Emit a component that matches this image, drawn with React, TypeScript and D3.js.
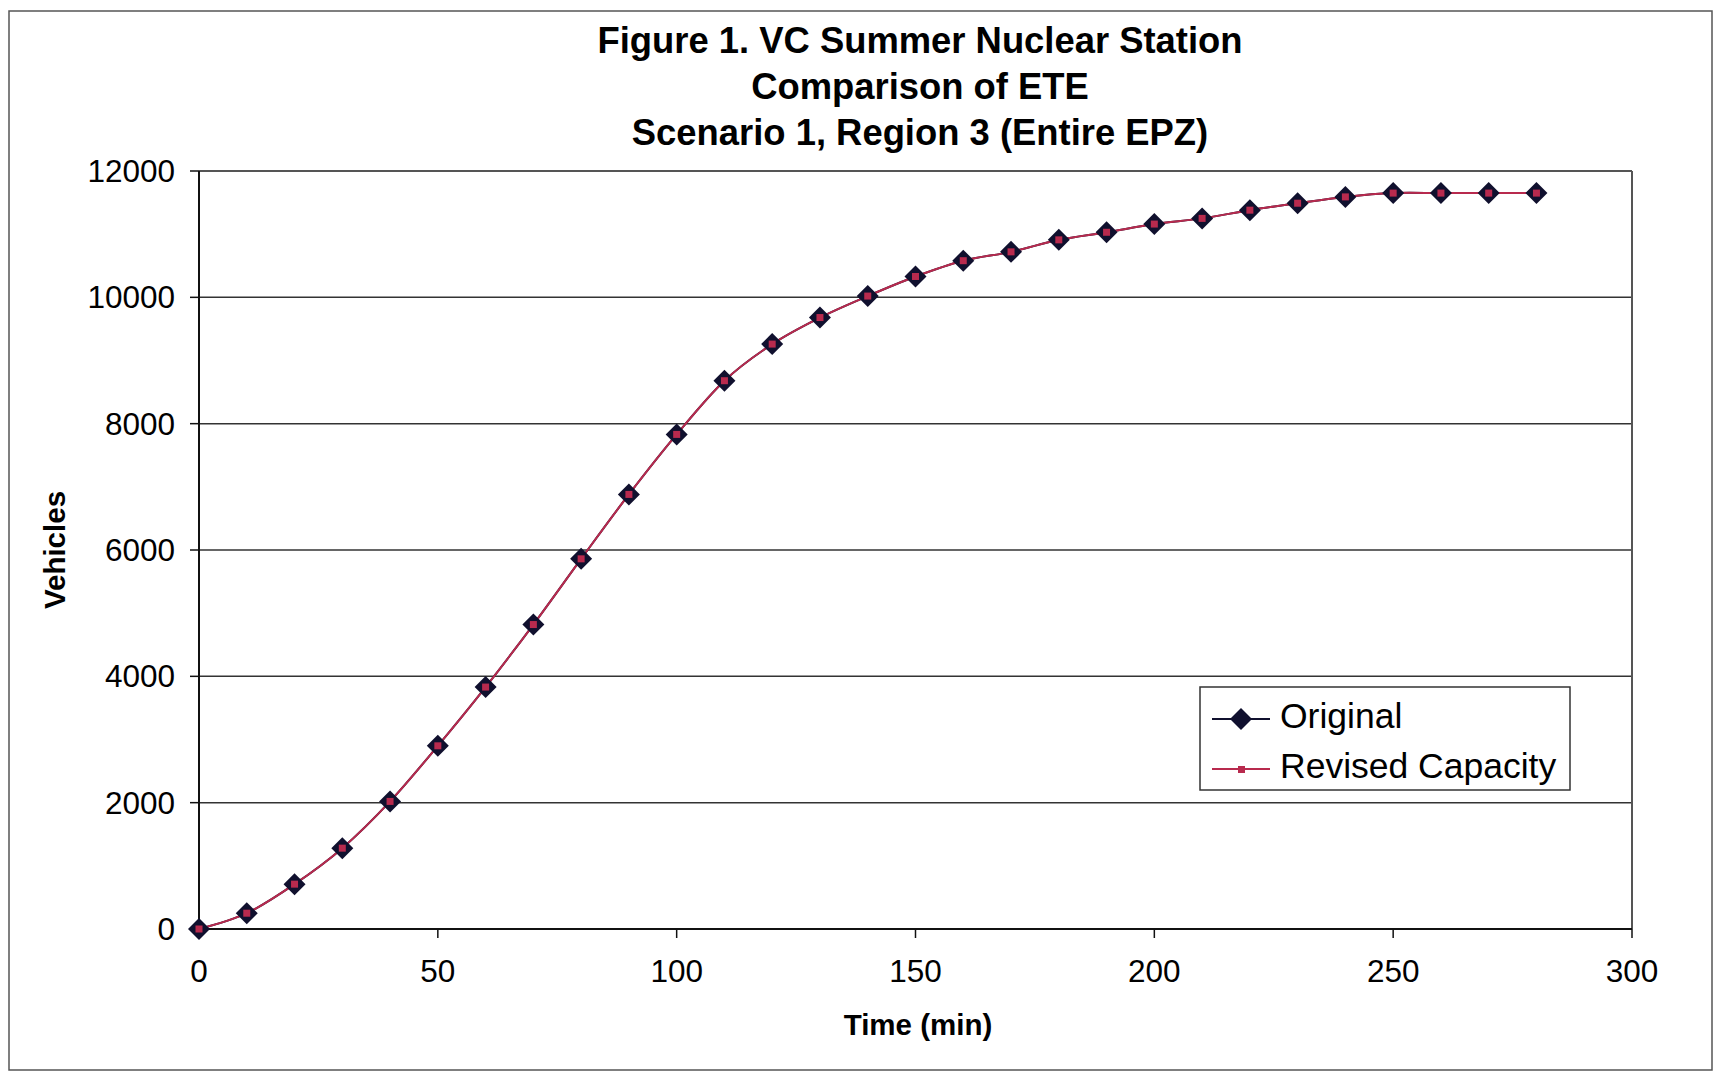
import React from 'react'
import * as d3 from 'd3'

// minutes after start
const times = [0, 10, 20, 30, 40, 50, 60, 70, 80, 90, 100, 110, 120, 130, 140,
  150, 160, 170, 180, 190, 200, 210, 220, 230, 240, 250, 260, 270, 280]

// vehicles evacuated
const original = [0, 250, 710, 1280, 2020, 2900, 3830, 4820, 5860, 6880, 7830, 8680,
  9260, 9680, 10020, 10330, 10580, 10720, 10910, 11030, 11160, 11250, 11380, 11490,
  11590, 11650, 11650, 11650, 11650]
const revisedCapacity = [0, 250, 710, 1280, 2020, 2900, 3830, 4820, 5860, 6880, 7830, 8680,
  9260, 9680, 10020, 10330, 10580, 10720, 10910, 11030, 11160, 11250, 11380, 11490,
  11590, 11650, 11650, 11650, 11650]

const xTicks = [0, 50, 100, 150, 200, 250, 300]
const yTicks = [0, 2000, 4000, 6000, 8000, 10000, 12000]

const titleLines = [
  'Figure 1. VC Summer Nuclear Station',
  'Comparison of ETE',
  'Scenario 1, Region 3 (Entire EPZ)',
]
const seriesNames = ['Original', 'Revised Capacity']

const W = 1715
const H = 1073
const FONT = '"Liberation Sans", Arial, Helvetica, sans-serif'
const NAVY = '#10102e'
const RED = '#b82a4e'

function App() {
  React.useEffect(() => {
    document.body.style.margin = '0'
    document.body.style.overflow = 'hidden'
  }, [])

  const left = 199, right = 1632, top = 171, bottom = 929

  const x = d3.scaleLinear().domain([0, 300]).range([left, right])
  const y = d3.scaleLinear().domain([0, 12000]).range([bottom, top])

  const line = d3.line<number>()
    .x((_, i) => x(times[i]))
    .y(d => y(d))
    .curve(d3.curveCatmullRom.alpha(0))

  const diamond = (cx: number, cy: number, r: number) =>
    `M${cx},${cy - r}L${cx + r},${cy}L${cx},${cy + r}L${cx - r},${cy}Z`

  return (
    <svg width={W} height={H} style={{ position: 'absolute', left: 0, top: 0, background: '#fff' }}
      fontFamily={FONT}>
      <rect x={0} y={0} width={W} height={H} fill='#fff' />
      {/* outer chart frame */}
      <rect x={9} y={11} width={1703} height={1059} fill='none' stroke='#555' strokeWidth={1.5} />

      {titleLines.map((t, i) => (
        <text key={t} x={920} y={53 + i * 46} textAnchor='middle' fontSize={36.4}
          fontWeight='bold' fill='#000'>{t}</text>
      ))}

      {/* grid */}
      {yTicks.filter(v => v > 0 && v < 12000).map(v => (
        <line key={v} x1={left} x2={right} y1={y(v)} y2={y(v)} stroke='#333' strokeWidth={1.5} />
      ))}
      {/* plot border */}
      <line x1={left} x2={right} y1={top} y2={top} stroke='#555' strokeWidth={2} />
      <line x1={right} x2={right} y1={top} y2={bottom} stroke='#555' strokeWidth={2} />

      {/* y axis */}
      <line x1={left} x2={left} y1={top} y2={bottom} stroke='#111' strokeWidth={2} />
      {yTicks.map(v => (
        <g key={v}>
          <line x1={left - 9} x2={left} y1={y(v)} y2={y(v)} stroke='#111' strokeWidth={1.5} />
          <text x={left - 24} y={y(v)} dy='0.35em' textAnchor='end' fontSize={31.5} fill='#000'>{v}</text>
        </g>
      ))}
      {/* x axis */}
      <line x1={left} x2={right} y1={bottom} y2={bottom} stroke='#111' strokeWidth={2} />
      {xTicks.map(v => (
        <g key={v}>
          <line x1={x(v)} x2={x(v)} y1={bottom} y2={bottom + 9} stroke='#111' strokeWidth={1.5} />
          <text x={x(v)} y={982} textAnchor='middle' fontSize={31.5} fill='#000'>{v}</text>
        </g>
      ))}

      <text x={918} y={1035} textAnchor='middle' fontSize={29.5} fontWeight='bold' fill='#000'>Time (min)</text>
      <text transform='translate(65,550) rotate(-90)' textAnchor='middle' fontSize={29.5}
        fontWeight='bold' fill='#000'>Vehicles</text>

      {/* series */}
      <path d={line(original) ?? ''} fill='none' stroke={NAVY} strokeWidth={2} />
      <path d={line(revisedCapacity) ?? ''} fill='none' stroke={RED} strokeWidth={2} />
      {original.map((v, i) => (
        <path key={'o' + i} d={diamond(x(times[i]), y(v), 11)} fill={NAVY} />
      ))}
      {revisedCapacity.map((v, i) => (
        <rect key={'r' + i} x={x(times[i]) - 3.5} y={y(v) - 3.5} width={7} height={7} fill={RED} />
      ))}

      {/* legend */}
      <rect x={1200} y={687} width={370} height={103} fill='#fff' stroke='#333' strokeWidth={1.5} />
      <line x1={1212} x2={1270} y1={719} y2={719} stroke={NAVY} strokeWidth={2} />
      <path d={diamond(1241, 719, 11)} fill={NAVY} />
      <text x={1280} y={728} fontSize={35.5} fill='#000'>{seriesNames[0]}</text>
      <line x1={1212} x2={1270} y1={769} y2={769} stroke={RED} strokeWidth={2} />
      <rect x={1238} y={766} width={7} height={7} fill={RED} />
      <text x={1280} y={778} fontSize={35.5} fill='#000'>{seriesNames[1]}</text>
    </svg>
  )
}

export default App
